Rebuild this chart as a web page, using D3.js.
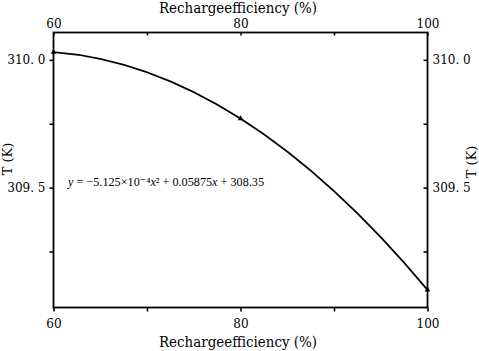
<!DOCTYPE html>
<html>
<head>
<meta charset="utf-8">
<script src="https://cdn.jsdelivr.net/npm/d3@7"></script>
<style>
body { margin:0; background:#fff; }
text { font-family: "DejaVu Serif", "Liberation Serif", serif; fill:#000; }
</style>
</head>
<body>
<svg id="drawing_region"></svg>
<script>
// data
const efficiency = [60, 80, 100];
const temperature = [310.03, 309.77, 309.10];
const xTicks = [60, 70, 80, 90, 100];
const xTickLabels = ["60", "", "80", "", "100"];
const yTicks = [309.25, 309.5, 309.75, 310.0];
const yTickLabels = ["", "309. 5", "", "310. 0"];
const xTitle = "Rechargeefficiency (%)";
const yTitle = "T (K)";

const data = efficiency.map((x, i) => ({x: x, y: temperature[i]}));

const config = {
  width: 479, height: 351,
  margin: {top:32.5, right:51.5, bottom:43.5, left:53.5}
};

// smooth parabola through three points (quadratic bezier)
function curveParabola(context) {
  let pts = [];
  return {
    areaStart() {}, areaEnd() {},
    lineStart() { pts = []; },
    point(x, y) { pts.push([x, y]); },
    lineEnd() {
      const [a, b, c] = pts;
      context.moveTo(a[0], a[1]);
      context.quadraticCurveTo(2 * b[0] - (a[0] + c[0]) / 2,
                               2 * b[1] - (a[1] + c[1]) / 2, c[0], c[1]);
    }
  };
}

const svg = d3.select('#drawing_region')
  .attr('width', config.width)
  .attr('height', config.height);

const inner_width = config.width - config.margin.left - config.margin.right;
const inner_height = config.height - config.margin.top - config.margin.bottom;

const chart = svg.append('g')
  .attr('transform', `translate(${config.margin.left}, ${config.margin.top})`);

const xscale = d3.scaleLinear().domain([60, 100]).range([0, inner_width]);
const yscale = d3.scaleLinear().domain([309.031, 310.107]).range([inner_height, 0]);

// frame
chart.append('rect')
  .attr('width', inner_width).attr('height', inner_height)
  .attr('fill', 'none').attr('stroke', '#000').attr('stroke-width', 1.8);

// bottom axis
const xb = chart.append('g').attr('transform', `translate(0, ${inner_height})`)
  .call(d3.axisBottom(xscale).tickValues(xTicks).tickSize(4)
    .tickFormat((d, i) => xTickLabels[i]));
// top axis
const xt = chart.append('g')
  .call(d3.axisTop(xscale).tickValues(xTicks).tickSize(-3)
    .tickFormat((d, i) => xTickLabels[i]));
// left axis
const yl = chart.append('g')
  .call(d3.axisLeft(yscale).tickValues(yTicks).tickSize(4)
    .tickFormat((d, i) => yTickLabels[i]));
// right axis
const yr = chart.append('g').attr('transform', `translate(${inner_width}, 0)`)
  .call(d3.axisRight(yscale).tickValues(yTicks).tickSize(-4)
    .tickFormat((d, i) => yTickLabels[i]));

[xb, xt, yl, yr].forEach(g => {
  g.select('.domain').remove();
  g.selectAll('.tick line').attr('stroke', '#000').attr('stroke-width', 1.6);
  g.selectAll('.tick text').attr('font-size', 12).attr('fill', '#000');
});
xb.selectAll('.tick text').attr('y', 12);
xt.selectAll('.tick text').attr('y', -5);
yl.selectAll('.tick text').attr('x', -8);
yr.selectAll('.tick text').attr('x', 5);

// curve through the points
const line = d3.line()
  .x(d => xscale(d.x))
  .y(d => yscale(d.y))
  .curve(curveParabola);

chart.append('path')
  .datum(data)
  .attr('fill', 'none')
  .attr('stroke', '#000')
  .attr('stroke-width', 1.8)
  .attr('d', line);

chart.selectAll('.marker')
  .data(data)
  .enter()
  .append('path')
  .attr('class', 'marker')
  .attr('transform', d => `translate(${xscale(d.x)}, ${yscale(d.y)})`)
  .attr('d', d3.symbol().type(d3.symbolTriangle).size(14))
  .attr('fill', '#000');

// axis titles
svg.append('text')
  .attr('x', 238).attr('y', 347)
  .attr('text-anchor', 'middle').attr('font-size', 14)
  .attr('textLength', 158).attr('lengthAdjust', 'spacingAndGlyphs')
  .text(xTitle);
svg.append('text')
  .attr('x', 238).attr('y', 13)
  .attr('text-anchor', 'middle').attr('font-size', 14)
  .attr('textLength', 158).attr('lengthAdjust', 'spacingAndGlyphs')
  .text(xTitle);
svg.append('text')
  .attr('transform', 'translate(12, 159) rotate(-90)')
  .attr('text-anchor', 'middle').attr('font-size', 13)
  .text(yTitle);
svg.append('text')
  .attr('transform', 'translate(476, 162) rotate(-90)')
  .attr('text-anchor', 'middle').attr('font-size', 13)
  .text(yTitle);

// fitted equation
const eq = svg.append('text')
  .attr('x', 68).attr('y', 186)
  .attr('font-size', 12.2)
  .style('font-family', '"Liberation Serif", "DejaVu Serif", serif');
eq.append('tspan').attr('font-style', 'italic').text('y');
eq.append('tspan').text(' = −5.125×10⁻⁴');
eq.append('tspan').attr('font-style', 'italic').text('x');
eq.append('tspan').text('² + 0.05875');
eq.append('tspan').attr('font-style', 'italic').text('x');
eq.append('tspan').text(' + 308.35');
</script>
</body>
</html>
